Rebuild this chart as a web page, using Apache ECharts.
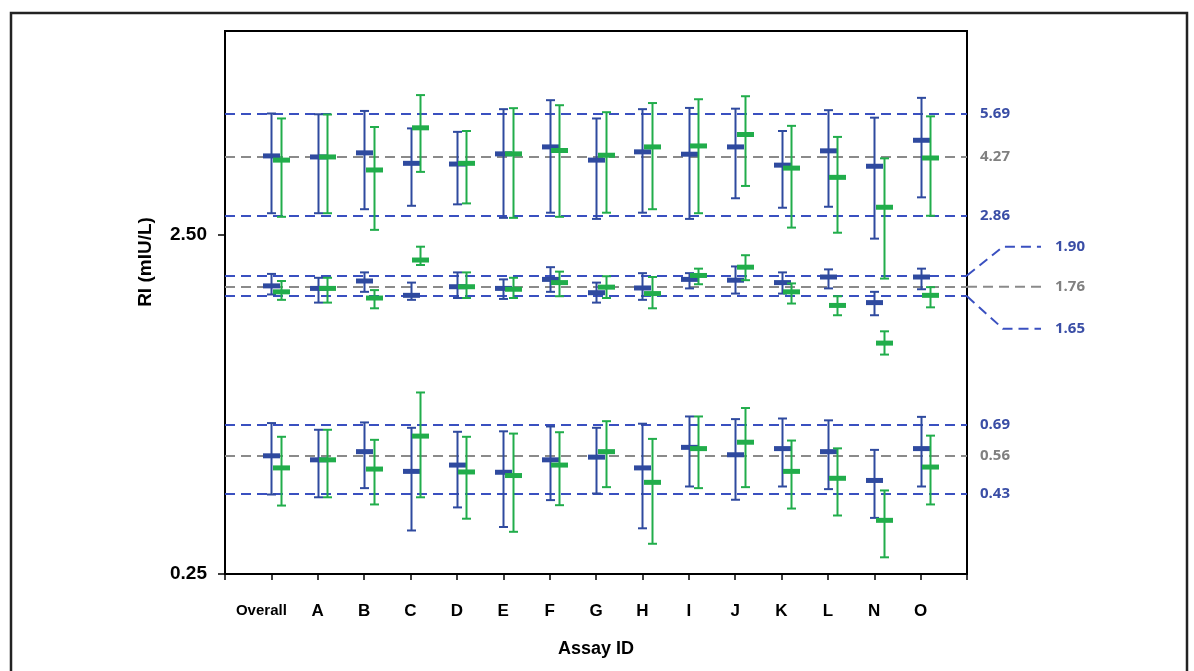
<!DOCTYPE html>
<html>
<head>
<meta charset="utf-8">
<script src="https://cdn.jsdelivr.net/npm/echarts@6/dist/echarts.min.js"></script>
<style>
html,body{margin:0;padding:0;background:#fff;}
#chart{width:1194px;height:671px;}
</style>
</head>
<body>
<div id="chart"></div>
<script>
// ---- data ----
const categories = ['Overall','A','B','C','D','E','F','G','H','I','J','K','L','N','O'];
// each entry: [mean, lower, upper]
const highBlue = [[4.28,2.90,5.71],[4.25,2.90,5.68],[4.37,2.98,5.81],[4.07,3.05,5.16],[4.05,3.08,5.04],[4.34,2.81,5.88],[4.55,2.91,6.25],[4.16,2.79,5.52],[4.40,2.91,5.88],[4.33,2.79,5.93],[4.55,3.21,5.90],[4.02,3.01,5.07],[4.43,3.03,5.84],[3.99,2.44,5.55],[4.76,3.23,6.35]];
const highGreen = [[4.16,2.83,5.52],[4.25,2.90,5.67],[3.89,2.59,5.21],[5.18,3.84,6.47],[4.07,3.10,5.07],[4.34,2.81,5.92],[4.44,2.83,6.04],[4.30,2.91,5.76],[4.55,2.98,6.13],[4.58,2.90,6.29],[4.95,3.49,6.42],[3.94,2.63,5.25],[3.70,2.54,4.87],[3.02,1.86,4.21],[4.22,2.85,5.60]];
const midBlue = [[1.77,1.67,1.92],[1.74,1.58,1.87],[1.83,1.70,1.94],[1.66,1.61,1.81],[1.76,1.63,1.94],[1.74,1.62,1.85],[1.85,1.70,2.01],[1.69,1.58,1.81],[1.745,1.61,1.93],[1.85,1.74,1.93],[1.84,1.68,2.02],[1.81,1.68,1.94],[1.88,1.74,1.98],[1.58,1.45,1.70],[1.88,1.73,1.99]];
const midGreen = [[1.70,1.61,1.83],[1.74,1.58,1.87],[1.63,1.52,1.72],[2.11,2.04,2.31],[1.76,1.63,1.94],[1.73,1.63,1.87],[1.81,1.65,1.95],[1.755,1.63,1.89],[1.68,1.52,1.88],[1.90,1.79,1.99],[2.01,1.84,2.18],[1.70,1.57,1.80],[1.55,1.45,1.65],[1.20,1.11,1.30],[1.66,1.53,1.755]];
const lowBlue = [[0.558,0.429,0.697],[0.543,0.421,0.666],[0.574,0.448,0.700],[0.502,0.336,0.675],[0.524,0.393,0.657],[0.499,0.344,0.659],[0.543,0.413,0.681],[0.553,0.432,0.675],[0.514,0.341,0.694],[0.591,0.453,0.729],[0.562,0.414,0.716],[0.586,0.453,0.719],[0.574,0.445,0.710],[0.472,0.366,0.581],[0.586,0.453,0.727]];
const lowGreen = [[0.514,0.398,0.635],[0.543,0.421,0.666],[0.510,0.401,0.622],[0.638,0.421,0.858],[0.500,0.364,0.635],[0.488,0.333,0.649],[0.524,0.399,0.655],[0.574,0.451,0.706],[0.466,0.307,0.626],[0.586,0.448,0.729],[0.612,0.451,0.772],[0.502,0.390,0.619],[0.479,0.372,0.587],[0.360,0.280,0.441],[0.517,0.401,0.640]];
const refBlueValues = [5.69, 2.86, 1.90, 1.65, 0.69, 0.43];
const refGreyValues = [4.27, 1.76, 0.56];
const yTickValues = [0.25, 2.5];
const xAxisTitle = 'Assay ID';
const yAxisTitle = 'RI (mIU/L)';

// ---- styles ----
const BLUE = '#2f4a9f';
const GREEN = '#21ad4b';
const REF_BLUE = '#3a50c0';
const REF_GREY = '#8a8a8a';
const LABEL_BLUE = '#3a4ea6';
const LABEL_GREY = '#808080';

const axisData = [''].concat(categories, ['']);

function build(groups) {
  const out = [];
  groups.forEach(g => g.forEach((d, i) => out.push([i + 1, d[0], d[1], d[2]])));
  return out;
}

function makeRender(color, dx) {
  return function (params, api) {
    const x = api.value(0);
    const pm = api.coord([x, api.value(1)]);
    const pl = api.coord([x, api.value(2)]);
    const ph = api.coord([x, api.value(3)]);
    const cx = Math.round(pm[0] + dx) + 0.5;
    const ls = { stroke: color, lineWidth: 2 };
    return {
      type: 'group',
      children: [
        { type: 'line', shape: { x1: cx, y1: pl[1], x2: cx, y2: ph[1] }, style: ls },
        { type: 'line', shape: { x1: cx - 4.5, y1: ph[1], x2: cx + 4.5, y2: ph[1] }, style: ls },
        { type: 'line', shape: { x1: cx - 4.5, y1: pl[1], x2: cx + 4.5, y2: pl[1] }, style: ls },
        { type: 'rect', shape: { x: cx - 8.5, y: pm[1] - 2.5, width: 17, height: 5 }, style: { fill: color } }
      ]
    };
  };
}

const chart = echarts.init(document.getElementById('chart'), null, { renderer: 'canvas' });

const markData = refBlueValues.map(v => ({ yAxis: v, lineStyle: { color: REF_BLUE } }))
  .concat(refGreyValues.map(v => ({ yAxis: v, lineStyle: { color: REF_GREY } })));

chart.setOption({
  animation: false,
  grid: { left: 225, top: 31, width: 742, height: 543, show: true, borderColor: '#000', borderWidth: 2, backgroundColor: 'transparent' },
  xAxis: {
    type: 'category',
    data: axisData,
    boundaryGap: false,
    name: xAxisTitle,
    nameLocation: 'middle',
    nameGap: 66,
    nameTextStyle: { fontFamily: 'Liberation Sans, Arial', fontWeight: 'bold', fontSize: 18, color: '#000' },
    axisLine: { lineStyle: { color: '#000', width: 2 } },
    axisTick: { show: true, interval: 0, length: 6, lineStyle: { color: '#000', width: 1.5 } },
    axisLabel: {
      interval: 0, margin: 29, color: '#000',
      fontFamily: 'Liberation Sans, Arial', fontWeight: 'bold', fontSize: 17,
      formatter: v => v === 'Overall' ? '{o|Overall}' : v,
      rich: { o: { fontFamily: 'Liberation Sans, Arial', fontWeight: 'bold', fontSize: 15, color: '#000', padding: [0, 20, 0, 0] } }
    },
    splitLine: { show: false }
  },
  yAxis: {
    type: 'log',
    logBase: 10,
    min: 0.25,
    max: 10,
    axisLine: { show: true, lineStyle: { color: '#000', width: 2 } },
    axisTick: { show: true, customValues: yTickValues, length: 7, lineStyle: { color: '#000', width: 1.5 } },
    axisLabel: {
      customValues: yTickValues, margin: 18, color: '#000',
      fontFamily: 'Liberation Sans, Arial', fontWeight: 'bold', fontSize: 19,
      formatter: v => Number(v).toFixed(2)
    },
    splitLine: { show: false },
    minorTick: { show: false }
  },
  series: [
    {
      type: 'line', data: [], z: 1, silent: true,
      markLine: {
        symbol: 'none', silent: true, animation: false,
        label: { show: false },
        lineStyle: { type: [10, 6], width: 2 },
        data: markData
      }
    },
    { type: 'custom', name: 'blue', z: 5, renderItem: makeRender(BLUE, 0), data: build([highBlue, midBlue, lowBlue]) },
    { type: 'custom', name: 'green', z: 6, renderItem: makeRender(GREEN, 9.5), data: build([highGreen, midGreen, lowGreen]) }
  ]
});

// ---- annotations outside the plot (positions from the chart's own scales) ----
const xRight = chart.convertToPixel({ xAxisIndex: 0 }, axisData.length - 1);
const yPix = v => chart.convertToPixel({ yAxisIndex: 0 }, v);
const graphics = [];
graphics.push({ type: 'rect', shape: { x: 11, y: 13, width: 1176, height: 690 }, style: { fill: 'none', stroke: '#222', lineWidth: 2.5 }, z: 0, silent: true });
graphics.push({ type: 'text', x: 146, y: 262, rotation: Math.PI / 2, style: { text: yAxisTitle, fontFamily: 'Liberation Sans, Arial', fontWeight: 'bold', fontSize: 19, fill: '#000', textAlign: 'center', textVerticalAlign: 'middle' } });

const labelFont = { fontFamily: 'Open Sans, DejaVu Sans', fontSize: 15, fontWeight: 'bold' };
const midSet = [1.90, 1.76, 1.65];
refBlueValues.concat(refGreyValues).forEach(v => {
  if (midSet.indexOf(v) >= 0) return;
  const grey = refGreyValues.indexOf(v) >= 0;
  graphics.push({ type: 'text', x: xRight + 13, y: yPix(v), style: Object.assign({ text: v.toFixed(2), fill: grey ? LABEL_GREY : LABEL_BLUE, textAlign: 'left', textVerticalAlign: 'middle' }, labelFont) });
});
const yMidRef = yPix(1.76);
const dash = { lineDash: [10, 6], lineWidth: 2 };
[[1.90, -40], [1.65, 42]].forEach(([v, off]) => {
  const y0 = yPix(v), y1 = yMidRef + off;
  graphics.push({ type: 'polyline', shape: { points: [[xRight, y0], [xRight + 36, y1], [xRight + 74, y1]] }, style: Object.assign({ stroke: REF_BLUE, fill: null }, dash) });
  graphics.push({ type: 'text', x: xRight + 88, y: y1, style: Object.assign({ text: v.toFixed(2), fill: LABEL_BLUE, textAlign: 'left', textVerticalAlign: 'middle' }, labelFont) });
});
graphics.push({ type: 'line', shape: { x1: xRight, y1: yMidRef, x2: xRight + 76, y2: yMidRef }, style: Object.assign({ stroke: REF_GREY }, dash) });
graphics.push({ type: 'text', x: xRight + 88, y: yMidRef, style: Object.assign({ text: '1.76', fill: LABEL_GREY, textAlign: 'left', textVerticalAlign: 'middle' }, labelFont) });

chart.setOption({ graphic: graphics });
</script>
</body>
</html>
